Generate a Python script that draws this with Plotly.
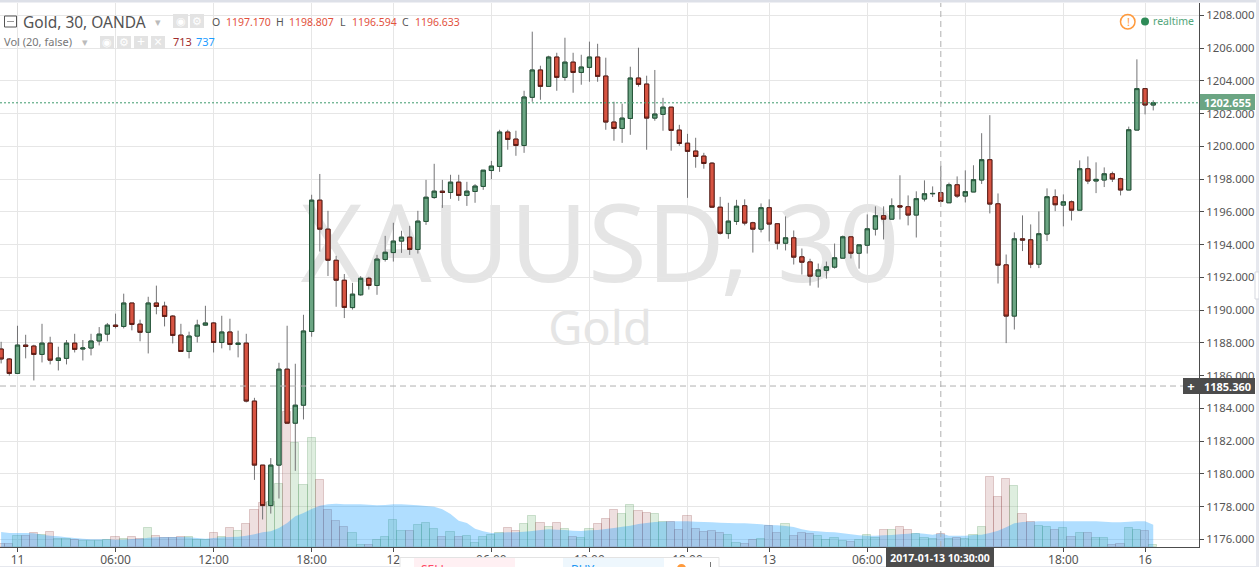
import plotly.graph_objects as go

# ---------- data ----------
bar_numbers = list(range(-2, 140))

opens = [1187.62,1187.01,1186.13,1187.86,1187.80,1187.29,1187.98,1186.92,1187.05,1187.98,
         1187.62,1187.68,1188.11,1188.53,1189.08,1189.00,1190.43,1189.14,1188.64,1190.43,
         1190.24,1189.63,1188.47,1187.47,1188.41,1189.08,1189.21,1188.02,1188.66,1187.90,
         1187.98,1184.44,1180.53,1178.06,1180.53,1186.39,1183.09,1184.19,1188.69,1196.71,
         1194.94,1193.04,1191.82,1190.15,1190.93,1191.94,1191.50,1193.09,1193.51,1194.21,
         1194.45,1193.70,1195.41,1196.87,1197.26,1197.18,1197.81,1197.00,1197.24,1197.55,
         1198.52,1198.77,1200.87,1200.44,1200.05,1202.99,1204.66,1203.66,1205.45,1204.21,
         1205.14,1204.51,1204.82,1205.45,1204.29,1201.48,1201.09,1201.70,1204.17,1203.80,
         1201.72,1201.95,1202.39,1200.99,1200.19,1199.71,1199.40,1198.97,1196.28,1194.67,
         1195.41,1196.37,1195.33,1194.94,1196.25,1195.27,1194.08,1194.41,1193.25,1192.94,
         1192.07,1192.43,1192.62,1193.17,1194.47,1193.47,1193.96,1194.94,1195.76,1195.55,
         1196.37,1196.31,1195.80,1196.78,1197.10,1197.17,1196.55,1197.65,1196.96,1197.21,
         1197.94,1199.18,1196.49,1192.76,1189.63,1194.35,1194.29,1192.80,1194.64,1196.92,
         1196.41,1196.61,1196.10,1198.63,1197.88,1197.94,1198.32,1198.02,1197.33,1200.99,
         1203.52,1202.52]
highs = [1188.06,1187.07,1189.04,1188.49,1187.88,1189.16,1188.37,1187.76,1188.17,1188.55,
         1188.17,1188.55,1188.96,1189.21,1189.78,1191.00,1190.43,1189.41,1190.81,1191.49,
         1190.51,1189.69,1189.16,1188.68,1189.41,1190.26,1189.27,1189.65,1189.47,1188.74,
         1188.55,1184.64,1180.53,1180.96,1186.78,1189.04,1186.72,1189.71,1197.04,1198.31,
         1196.06,1193.31,1192.20,1191.66,1192.07,1192.03,1193.37,1194.53,1195.33,1194.84,
         1195.14,1196.06,1197.95,1198.93,1197.95,1198.26,1198.26,1197.83,1197.69,1198.54,
         1199.11,1201.01,1201.01,1200.95,1203.39,1207.00,1204.92,1205.53,1205.71,1206.63,
         1205.71,1205.59,1206.39,1206.26,1205.41,1202.72,1202.60,1204.86,1206.02,1204.31,
         1204.66,1202.96,1202.39,1201.31,1200.76,1200.52,1199.60,1199.03,1196.91,1196.55,
         1196.73,1196.76,1195.39,1196.51,1196.76,1195.27,1195.72,1194.86,1193.76,1193.13,
         1192.84,1192.96,1194.06,1194.55,1194.47,1193.98,1195.84,1196.33,1196.33,1196.82,
         1198.23,1197.00,1197.25,1197.92,1197.55,1198.807,1197.78,1198.16,1198.53,1198.84,
         1200.80,1201.90,1197.12,1193.39,1194.74,1195.78,1195.23,1196.02,1197.43,1197.37,
         1197.06,1196.69,1199.14,1199.38,1199.02,1198.71,1198.45,1198.08,1201.20,1205.31,
         1203.52,1202.81]
lows = [1186.74,1185.99,1186.13,1187.05,1185.70,1186.80,1186.68,1186.31,1186.68,1187.41,
        1186.92,1187.23,1187.84,1188.09,1188.88,1188.88,1188.76,1188.09,1187.35,1189.74,
        1189.00,1187.96,1187.47,1187.05,1188.02,1189.04,1187.41,1187.66,1187.54,1187.11,
        1184.36,1179.63,1177.21,1177.57,1178.49,1183.09,1180.18,1183.32,1188.37,1193.57,
        1192.08,1190.20,1189.51,1190.03,1190.87,1191.25,1190.93,1192.96,1192.96,1193.49,
        1193.37,1193.45,1195.20,1196.79,1196.24,1196.79,1196.67,1196.36,1196.55,1197.34,
        1197.99,1198.44,1199.79,1199.42,1199.60,1202.72,1202.84,1203.66,1203.39,1204.00,
        1203.27,1203.76,1203.94,1203.94,1201.01,1200.34,1200.21,1200.70,1203.64,1199.79,
        1201.56,1200.95,1199.73,1200.03,1196.85,1198.69,1198.63,1196.26,1194.61,1194.35,
        1195.20,1195.17,1193.51,1194.74,1194.19,1193.70,1193.64,1192.78,1192.17,1191.49,
        1191.37,1191.92,1192.53,1193.17,1193.15,1192.53,1193.45,1194.55,1194.31,1195.55,
        1195.53,1195.17,1194.43,1196.63,1196.90,1196.594,1196.55,1196.84,1196.57,1197.21,
        1197.70,1195.90,1191.62,1187.98,1188.81,1193.60,1192.56,1192.56,1194.21,1196.04,
        1195.11,1195.47,1196.10,1197.69,1197.14,1197.51,1197.82,1197.00,1197.33,1200.99,
        1201.95,1202.19]
closes = [1187.01,1186.13,1187.86,1187.78,1187.29,1187.98,1186.94,1187.07,1187.98,1187.60,
          1187.68,1188.11,1188.53,1189.08,1189.00,1190.43,1189.12,1188.64,1190.43,1190.22,
          1189.61,1188.45,1187.47,1188.41,1189.08,1189.21,1188.02,1188.66,1187.90,1187.98,
          1184.44,1180.53,1178.06,1180.53,1186.39,1183.09,1184.19,1188.72,1196.71,1194.94,
          1193.04,1191.82,1190.16,1190.97,1191.94,1191.50,1193.11,1193.53,1194.21,1194.45,
          1193.70,1195.43,1196.89,1197.26,1197.18,1197.81,1197.00,1197.26,1197.57,1198.54,
          1198.79,1200.87,1200.42,1200.05,1203.01,1204.66,1203.66,1205.45,1204.21,1205.14,
          1204.51,1204.84,1205.45,1204.27,1201.48,1201.09,1201.72,1204.17,1203.78,1201.72,
          1201.97,1202.39,1200.97,1200.17,1199.69,1199.38,1198.95,1196.28,1194.69,1195.43,
          1196.34,1195.31,1194.94,1196.25,1195.25,1194.08,1194.41,1193.23,1192.92,1192.07,
          1192.45,1192.64,1193.19,1194.47,1193.47,1193.98,1194.96,1195.76,1195.55,1196.37,
          1196.29,1195.80,1196.80,1197.10,1197.12,1196.633,1197.65,1196.96,1197.23,1197.96,
          1199.18,1196.47,1192.74,1189.63,1194.35,1194.27,1192.80,1194.66,1196.92,1196.43,
          1196.61,1196.10,1198.63,1197.88,1197.98,1198.32,1198.00,1197.33,1201.01,1203.52,
          1202.52,1202.655]
volumes = [144,144,576,576,738,666,792,414,414,360,
           342,306,306,396,522,414,522,450,1044,576,
           486,486,522,522,396,396,738,558,1044,846,
           1260,1980,2394,2430,3420,7272,5634,3366,5904,3636,
           2016,1386,1062,774,126,126,360,558,1476,846,
           846,1170,1278,990,558,792,558,612,234,558,
           630,774,1044,846,1224,1656,1314,1098,1278,990,
           558,504,990,1224,1494,2016,1764,2250,1962,1854,
           1800,1368,1368,936,1692,990,792,846,738,666,
           234,180,396,450,1152,738,1260,612,756,702,
           594,396,486,324,270,396,648,504,918,918,
           1080,918,702,504,432,713,450,504,432,648,
           1080,3780,2700,3672,3294,1782,1350,1134,1080,918,
           1026,540,756,756,486,486,108,162,1026,918,
           864,108]
volume_ma = [810,756,756,756,738,666,612,576,522,486,
             450,414,414,414,396,396,432,450,504,522,
             540,540,540,522,486,450,486,522,540,558,
             612,684,792,846,1026,1296,1656,1836,2052,2232,
             2304,2340,2304,2304,2304,2286,2250,2268,2304,2304,
             2286,2250,2214,2178,2034,1782,1422,1296,990,846,
             756,774,792,792,828,864,918,954,936,918,
             882,864,900,918,972,1026,1098,1152,1242,1296,
             1350,1368,1386,1386,1386,1368,1350,1332,1314,1296,
             1278,1278,1260,1224,1188,1170,1134,1080,954,882,
             846,810,792,738,684,630,612,612,630,648,
             684,720,756,720,666,737,612,612,612,648,
             666,756,882,1062,1278,1350,1368,1386,1386,1386,
             1386,1386,1386,1386,1386,1368,1332,1332,1368,1386,
             1386,1206]
tick_bars = [0,12,24,36,46,58,70,82,92,104,116,128,138]
tick_labels = ["11","06:00","12:00","18:00","12","06:00","12:00","18:00","13","06:00","12:00","18:00","16"]
price_ticks = [1176,1178,1180,1182,1184,1186,1188,1190,1192,1194,1196,1198,1200,1202,1204,1206,1208]
last_price = 1202.655
cross_price = 1185.36
cross_bar = 113

FONT = "Noto Sans"
UP, DOWN = "#6BA583", "#D75442"
UP_B, DOWN_B = "#225437", "#5B1A13"
WICK = "#737375"
TXT = "#555555"
GRID = "#E6E6E6"
AX = "#4C4C4C"

# ---------- pixel helpers for page furniture ----------
L, R, T, B = 0, 60, 3, 20
PW, PH = 1259 - L - R, 567 - T - B
def px(x): return (x - L) / PW
def py(y): return (567 - B - y) / PH

fig = go.Figure()

vol_fill = ["rgba(90,170,95,0.2)" if c >= o else "rgba(170,95,95,0.2)" for o, c in zip(opens, closes)]
vol_line = ["rgba(60,130,70,0.22)" if c >= o else "rgba(130,50,50,0.22)" for o, c in zip(opens, closes)]
fig.add_trace(go.Bar(x=bar_numbers, y=volumes, yaxis="y", width=1,
                     marker=dict(color=vol_fill, line=dict(color=vol_line, width=1)), hoverinfo="skip"))
fig.add_trace(go.Scatter(x=bar_numbers, y=volume_ma, yaxis="y", mode="none", fill="tozeroy",
                         fillcolor="rgba(0,150,255,0.31)", hoverinfo="skip"))
# wicks
fig.add_trace(go.Candlestick(x=bar_numbers, open=opens, high=highs, low=lows, close=closes, yaxis="y2",
                             whiskerwidth=0,
                             increasing=dict(line=dict(color=WICK, width=1), fillcolor=WICK),
                             decreasing=dict(line=dict(color=WICK, width=1), fillcolor=WICK),
                             hoverinfo="skip"))
# bodies
body_hi = [max(o, c) for o, c in zip(opens, closes)]
body_lo = [min(o, c) for o, c in zip(opens, closes)]
fig.add_trace(go.Candlestick(x=bar_numbers, open=opens, high=body_hi, low=body_lo, close=closes, yaxis="y2",
                             whiskerwidth=0,
                             increasing=dict(line=dict(color=UP_B, width=1), fillcolor=UP),
                             decreasing=dict(line=dict(color=DOWN_B, width=1), fillcolor=DOWN),
                             hoverinfo="skip"))

shapes = []
annos = []

def rect(x0, y0, x1, y1, fill, line=None, layer="above"):
    shapes.append(dict(type="rect", xref="paper", yref="paper", x0=px(x0), x1=px(x1), y0=py(y0), y1=py(y1),
                       fillcolor=fill, line=dict(color=line or "rgba(0,0,0,0)", width=1 if line else 0), layer=layer))

def text(x, y, s, size=11.5, color=TXT, anchor="left", bg=None, w=None, h=None, bold=False):
    annos.append(dict(xref="paper", yref="paper", x=px(x), y=py(y), text=f"<b>{s}</b>" if bold else s,
                      showarrow=False, xanchor=anchor, yanchor="middle",
                      font=dict(family=FONT, size=size, color=color), borderpad=0, borderwidth=0,
                      bgcolor=bg, width=w, height=h, align="center" if w else "left"))

# watermark (under everything)
for (x0, y0, x1, y1, s, size) in [(250, 195, 950, 300, "XAUUSD, 30", 107), (450, 305, 750, 355, "Gold", 47)]:
    shapes.append(dict(type="rect", xref="paper", yref="paper", x0=px(x0), x1=px(x1), y0=py(y0), y1=py(y1),
                       line=dict(width=0), fillcolor="rgba(0,0,0,0)", layer="below",
                       label=dict(text=s, textposition="middle center",
                                  font=dict(family=FONT, size=size, color="#E5E5E5"))))

# price and crosshair lines
shapes.append(dict(type="line", xref="paper", yref="y2", x0=0, x1=1, y0=last_price, y1=last_price,
                   line=dict(color="#3E9B6D", width=1, dash="2px,2px"), layer="above"))
shapes.append(dict(type="line", xref="paper", yref="y2", x0=0, x1=1, y0=cross_price, y1=cross_price,
                   line=dict(color="#B0B0B0", width=1, dash="6px,4px"), layer="above"))
shapes.append(dict(type="line", xref="x", yref="paper", x0=cross_bar, x1=cross_bar, y0=0, y1=1,
                   line=dict(color="#B0B0B0", width=1, dash="6px,4px"), layer="above"))

# frame
rect(0, 0, 1259, 2.5, "#DDE0E8")
rect(1256, 0, 1259, 567, "#E6E8EE")
rect(0, 566, 1259, 567, "#E6E8EE")
rect(1255, 272, 1259, 299, "#FFFFFF", "#D5D7DE")

# order panel peeking from the bottom
rect(400, 557.5, 719, 572, "#FFFFFF", "#E3E3E3")
rect(414, 558, 515, 567, "#FFF0F3")
rect(563, 558, 664, 567, "#EEF7FD")
text(421, 569, "SELL", 12, "#FF4A68")
text(571, 569, "BUY", 12, "#2196F3")
shapes.append(dict(type="circle", xref="paper", yref="paper", x0=px(677), x1=px(686), y0=py(564), y1=py(573),
                   fillcolor="#FF9A3C", line=dict(width=0), layer="above"))
rect(710, 562, 711, 567, "#777777")

# header row 1
rect(4.5, 16, 16.5, 27, "#FFFFFF", "#555555")
rect(7, 21.2, 14, 21.8, "#555555")
text(23, 22, "Gold, 30, OANDA", 15.5, "#535353")
text(155, 22, "▾", 11, "#BBBBBB")
rect(173, 14, 188, 28, "#E3E3E3")
rect(190, 14, 204, 28, "#E3E3E3")
text(180.5, 21, "◉", 11, "#FFFFFF", "center")
text(197, 21, "⚙", 11, "#FFFFFF", "center")
x_pos = [(212, "O", "#555555"), (226, "1197.170", "#E2513D"), (276, "H", "#555555"), (289, "1198.807", "#E2513D"),
         (340, "L", "#555555"), (352, "1196.594", "#E2513D"), (402, "C", "#555555"), (415, "1196.633", "#E2513D")]
for x, s, c in x_pos:
    text(x, 22, s, 10.5, c)

# header row 2
text(4, 42, "Vol (20, false)", 11, "#777777")
text(82, 42, "▾", 11, "#BBBBBB")
for x0, g in [(100, "◉"), (117, "⚙"), (134, "+"), (151, "×")]:
    rect(x0, 36, x0 + 14, 49, "#E3E3E3")
    text(x0 + 7, 42, g, 11 if g in "◉⚙" else 14, "#FFFFFF", "center")
text(173, 42, "713", 11, "#A02C2C")
text(196, 42, "737", 11, "#1E9CFF")

# realtime
shapes.append(dict(type="circle", xref="paper", yref="paper", x0=px(1120.5), x1=px(1135), y0=py(14.5), y1=py(29),
                   fillcolor="rgba(0,0,0,0)", line=dict(color="#FF9A3C", width=1.5), layer="above"))
text(1128, 21.5, "!", 11, "#FF9A3C", "center")
shapes.append(dict(type="circle", xref="paper", yref="paper", x0=px(1141), x1=px(1149), y0=py(17.5), y1=py(25.5),
                   fillcolor="#2E8B57", line=dict(width=0), layer="above"))
text(1153, 21, "realtime", 10.5, "#53A57A")

# axis labels
text(1200, 102.5, "1202.655", 11, "#FFFFFF", bg="#6BA583", w=55, h=16, bold=True)
text(1200, 385.5, "1185.360", 11, "#FFFFFF", bg="#4C4C4C", w=55, h=16, bold=True)
text(1183, 385.5, "+", 13, "#FFFFFF", bg="#4C4C4C", w=16, h=16, bold=True)
text(886, 557, "2017-01-13 10:30:00", 10.5, "#FFFFFF", bg="#4C4C4C", w=108, h=19, bold=True)

fig.update_layout(
    width=1259, height=567, autosize=False,
    margin=dict(l=L, r=R, t=T, b=B, pad=0, autoexpand=False),
    paper_bgcolor="#FFFFFF", plot_bgcolor="#FFFFFF",
    showlegend=False, barmode="overlay", bargap=0, boxmode="overlay", boxgap=0.48, boxgroupgap=0,
    font=dict(family=FONT, size=11.5, color=TXT),
    shapes=shapes, annotations=annos,
    xaxis=dict(range=[-2.14, 144.6], tickmode="array", tickvals=tick_bars, ticktext=tick_labels, automargin=False,
               showgrid=True, gridcolor=GRID, gridwidth=1, zeroline=False, rangeslider=dict(visible=False),
               showline=True, linecolor=AX, linewidth=1, ticks="outside", ticklen=4, tickcolor=AX,
               ticklabelstandoff=-2,
               tickfont=dict(family=FONT, size=12, color=TXT)),
    yaxis=dict(range=[0, 29376], visible=False, fixedrange=True, automargin=False),
    yaxis2=dict(range=[1175.53, 1208.75], overlaying="y", side="right", anchor="x", automargin=False,
                tickmode="array", tickvals=price_ticks, tickformat=".3f",
                showgrid=True, gridcolor=GRID, gridwidth=1, zeroline=False,
                showline=True, linecolor=AX, linewidth=1, ticks="outside", ticklen=4, tickcolor=AX,
                tickfont=dict(family=FONT, size=11.3, color=TXT)),
)

fig.write_html("out.html", config={"displayModeBar": False},
               post_script="document.body.style.margin='0';document.body.style.overflow='hidden';")
